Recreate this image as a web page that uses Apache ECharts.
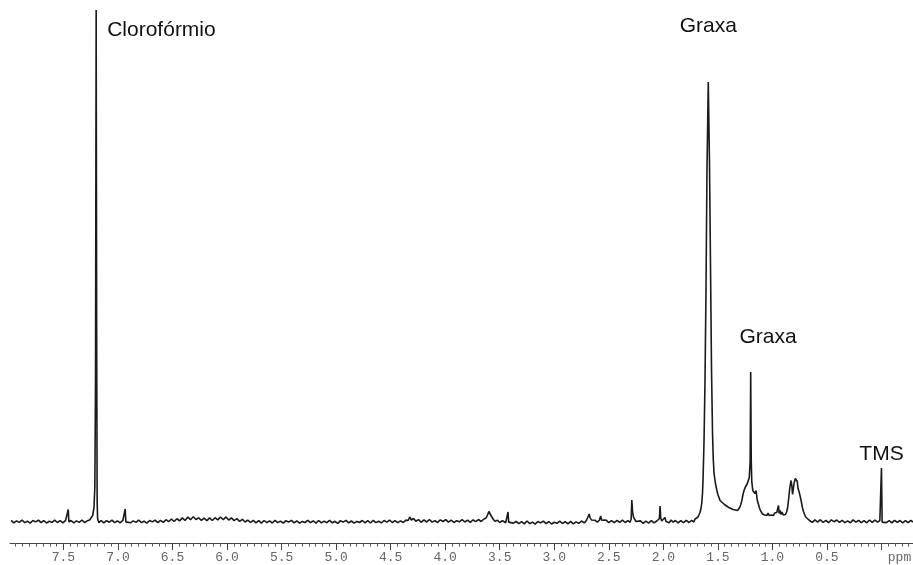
<!DOCTYPE html>
<html>
<head>
<meta charset="utf-8">
<script src="https://cdn.jsdelivr.net/npm/echarts@6/dist/echarts.min.js"></script>
<style>html,body{margin:0;padding:0;background:#fff;}#c{width:913px;height:565px;}</style>
</head>
<body>
<div id="c"></div>
<script>
// Chemical shift (ppm) vs. intensity (arbitrary units)
var regionAromatic = [[7.98,1.2],[7.955,-1.3],[7.93,0.6],[7.905,-0.9],[7.88,1.5],[7.855,-1.1],[7.83,0.3],[7.805,-1.6],[7.78,1.0],[7.755,-0.4],[7.73,1.4],[7.705,-1.2],[7.68,0.8],[7.655,-1.5],[7.63,0.2],[7.605,-0.8],[7.58,1.3],[7.555,-1.0],[7.53,0.9],[7.505,-1.4],[7.48,1.2],[7.462,-0.6],[7.456,12],[7.45,-0.5],[7.43,1.0],[7.405,-1.3],[7.38,0.6],[7.355,-0.9],[7.33,1.5],[7.305,-1.1],[7.28,0.8],[7.26,1.5],[7.245,3],[7.232,6],[7.22,14],[7.212,35],[7.206,140],[7.2,511.5],[7.195,170],[7.191,20],[7.187,3],[7.175,-1.2],[7.155,1.0],[7.13,-1.4],[7.105,0.9],[7.08,-0.7],[7.055,1.3],[7.03,-1.2],[7.005,0.6],[6.98,-1.3],[6.955,1.1],[6.94,-0.6],[6.934,12.5],[6.928,-0.4],[6.91,1.2],[6.885,-1.3],[6.86,0.6],[6.835,-0.9],[6.81,1.5],[6.785,-1.1],[6.76,0.3],[6.735,-1.6],[6.71,1.0],[6.685,-0.4],[6.66,1.4],[6.635,-1.2]];
var regionHump = [[6.61,1.1],[6.585,-0.9],[6.56,1.8],[6.535,-0.2],[6.51,2.5],[6.485,0.0],[6.46,2.8],[6.435,0.6],[6.41,3.6],[6.385,1.0],[6.36,4.4],[6.335,1.8],[6.31,4.8],[6.285,2.0],[6.26,3.6],[6.235,1.2],[6.21,3.4],[6.185,0.8],[6.16,3.6],[6.135,1.0],[6.11,3.8],[6.085,1.6],[6.06,4.5],[6.035,1.8],[6.01,4.6],[5.985,1.4],[5.96,3.6],[5.935,0.9],[5.91,2.8],[5.885,0.2],[5.86,2.2],[5.835,-0.5],[5.81,1.4],[5.785,-1.0],[5.76,1.2],[5.735,-1.3]];
var regionMiddle = [[5.71,0.9],[5.685,-1.6],[5.66,1.0],[5.635,-1.2],[5.61,0.6],[5.585,-1.5],[5.56,1.2],[5.535,-1.1],[5.51,0.4],[5.485,-1.7],[5.46,0.9],[5.435,-0.6],[5.41,1.2],[5.385,-1.4],[5.36,0.6],[5.335,-1.7],[5.31,0.1],[5.285,-1.0],[5.26,1.1],[5.235,-1.2],[5.21,0.7],[5.185,-1.6],[5.16,1.0],[5.135,-1.4],[5.11,0.4],[5.085,-1.2],[5.06,1.2],[5.035,-1.3],[5.01,0.2],[4.985,-1.8],[4.96,0.8],[4.935,-0.6],[4.91,1.1],[4.885,-1.4],[4.86,0.5],[4.835,-1.6],[4.81,0.1],[4.785,-1.0],[4.76,1.0],[4.735,-1.3],[4.71,0.8],[4.685,-1.5],[4.66,1.2],[4.635,-1.1],[4.61,0.3],[4.585,-1.4],[4.56,1.0],[4.535,-0.6],[4.51,1.4],[4.485,-1.0],[4.46,0.9],[4.435,-1.2],[4.41,0.6],[4.385,-1.0],[4.36,1.4],[4.34,1.0],[4.325,4.5],[4.31,1.5],[4.29,3.0],[4.27,0.2],[4.245,1.9],[4.22,-0.8],[4.195,1.6],[4.17,-0.5],[4.145,2.0],[4.12,-0.6],[4.095,0.9],[4.07,-1.0],[4.045,1.6],[4.02,0.0],[3.995,1.9],[3.97,-0.7],[3.945,1.3],[3.92,-1.0],[3.895,0.8],[3.87,-0.3],[3.845,1.8],[3.82,-0.5],[3.795,1.4],[3.77,-0.9],[3.745,1.6],[3.72,-0.2],[3.695,2.0],[3.67,0.0],[3.645,2.5],[3.625,3.5],[3.61,7],[3.6,10],[3.59,8],[3.575,5],[3.56,2.5],[3.545,0.3],[3.52,1.2],[3.5,-1.0],[3.475,0.8],[3.445,-1.2],[3.43,0.5],[3.424,9.5],[3.418,-0.6],[3.4,0.9],[3.375,-1.6]];
var regionAliphatic = [[3.35,0.0],[3.325,-2.1],[3.3,-0.2],[3.275,-2.4],[3.25,0.5],[3.225,-2.1],[3.2,-0.7],[3.175,-2.6],[3.15,0.0],[3.125,-1.4],[3.1,0.4],[3.075,-2.2],[3.05,-0.2],[3.025,-2.5],[3.0,-0.8],[2.975,-1.8],[2.95,0.3],[2.925,-2.0],[2.9,-0.1],[2.875,-2.4],[2.85,0.2],[2.825,-2.3],[2.8,-0.4],[2.775,-1.9],[2.75,0.5],[2.725,-1.4],[2.705,1.0],[2.69,2.0],[2.68,7.5],[2.672,4],[2.66,1.5],[2.645,-0.5],[2.625,1.2],[2.605,-0.6],[2.585,1.5],[2.575,5.5],[2.565,1.2],[2.55,-0.4],[2.525,1.4],[2.5,-1.1],[2.475,0.8],[2.45,-1.2],[2.425,1.1],[2.4,-0.9],[2.375,1.3],[2.35,-1.0],[2.325,0.9],[2.305,-0.8],[2.295,2.5],[2.289,21.5],[2.282,10],[2.275,5],[2.265,2.5],[2.25,0.0],[2.235,-1.5],[2.21,0.6],[2.185,-1.8],[2.16,0.3],[2.135,-1.6],[2.11,0.8],[2.085,-1.4],[2.06,0.5],[2.045,-0.5],[2.036,3],[2.03,15.5],[2.024,3.5],[2.015,0.5],[2.0,2.2],[1.985,4],[1.975,0.0],[1.96,1.0],[1.945,-1.2],[1.93,1.5],[1.92,3.2],[1.91,-0.6],[1.89,1.0],[1.865,-1.4],[1.84,0.8],[1.815,-1.2],[1.79,1.1],[1.765,-1.0],[1.74,1.2],[1.72,-0.5]];
var regionGrease = [[1.709,2.5],[1.695,2.8],[1.682,4.5],[1.672,6],[1.664,9],[1.655,13],[1.648,18],[1.641,28],[1.636,42],[1.627,80],[1.618,140],[1.609,230],[1.6,350],[1.588,439.5],[1.577,360],[1.567,250],[1.558,150],[1.549,88],[1.542,62],[1.535,48],[1.522,38],[1.511,32],[1.5,27],[1.49,25],[1.48,21],[1.47,22.5],[1.46,19],[1.45,20],[1.44,17],[1.43,18.5],[1.42,15.5],[1.41,17],[1.4,14],[1.39,15.5],[1.38,13],[1.37,14.5],[1.36,12],[1.35,13.5],[1.34,11.5],[1.33,13],[1.32,11],[1.31,13],[1.3,14],[1.29,17],[1.28,21],[1.27,27],[1.26,31],[1.25,34],[1.24,36],[1.23,38],[1.22,40],[1.212,44],[1.204,60],[1.199,149.5],[1.194,60],[1.189,40],[1.18,31],[1.17,29],[1.16,28],[1.15,31],[1.145,27],[1.14,22],[1.13,18],[1.12,14],[1.11,11],[1.1,9],[1.09,7.5],[1.08,8.5],[1.07,6.5],[1.06,8],[1.05,6],[1.04,8.5],[1.03,6],[1.02,8],[1.01,6.5],[1.0,8],[0.99,6],[0.98,8.5],[0.97,6.5],[0.96,9],[0.95,7],[0.944,16],[0.938,8],[0.93,11],[0.92,7],[0.912,9.5],[0.9,6.5],[0.89,8.5],[0.88,7],[0.87,9.5],[0.86,14],[0.85,24],[0.84,34],[0.83,41],[0.822,36],[0.815,27],[0.808,33],[0.8,39],[0.79,43],[0.78,44.5],[0.772,40],[0.765,33],[0.756,30],[0.745,25],[0.735,20],[0.725,14],[0.715,10],[0.705,7],[0.695,4.5],[0.68,3.5],[0.665,1.5],[0.65,2.5]];
var regionTMS = [[0.635,-0.8],[0.61,1.6],[0.585,-0.6],[0.56,1.8],[0.535,-1.0],[0.51,1.2],[0.485,-1.2],[0.46,1.7],[0.435,-0.2],[0.41,1.5],[0.385,-0.9],[0.36,1.1],[0.335,-1.2],[0.31,0.6],[0.285,-1.3],[0.26,1.6],[0.235,-0.7],[0.21,1.2],[0.185,-1.1],[0.16,0.9],[0.135,-1.3],[0.11,1.5],[0.085,-0.8],[0.06,1.4],[0.035,-0.6],[0.015,1.0],[0.006,-0.5],[0.0,53.5],[-0.006,-0.6],[-0.02,1.2],[-0.045,-1.1],[-0.07,0.8],[-0.095,-1.4],[-0.12,1.2],[-0.145,-0.9],[-0.17,1.0],[-0.195,-1.3],[-0.22,0.8],[-0.245,-1.2],[-0.27,1.1],[-0.289,-0.5]];

var majorTicks = [0, 0.5, 1.0, 1.5, 2.0, 2.5, 3.0, 3.5, 4.0, 4.5, 5.0, 5.5, 6.0, 6.5, 7.0, 7.5];
var annotationTexts = ['Clorofórmio', 'Graxa', 'Graxa', 'TMS'];
var annotationPpm = [7.099, 1.588, 1.040, 0.0];
var annotationVal = [491.5, 495.5, 184.5, 67.5];
var annotationAlign = ['left', 'center', 'center', 'center'];

var spectrum = [].concat(regionAromatic, regionHump, regionMiddle, regionAliphatic, regionGrease, regionTMS);

var minorTicks = [];
for (var t = -0.25; t <= 7.99; t += 0.0625) {
  var r = Math.round(t * 10000) / 10000;
  if (Math.abs(r * 2 - Math.round(r * 2)) > 1e-6) minorTicks.push(r);
}

var annData = annotationTexts.map(function (txt, i) {
  return {
    value: [annotationPpm[i], annotationVal[i]],
    label: { formatter: txt, align: annotationAlign[i] }
  };
});

var chart = echarts.init(document.getElementById('c'), null, { renderer: 'canvas' });
chart.setOption({
  animation: false,
  backgroundColor: '#fff',
  grid: { left: 10, right: 0, top: 0, bottom: 22, containLabel: false, outerBoundsMode: 'none' },
  xAxis: [{
    type: 'value', min: -0.289, max: 7.99, inverse: true, offset: 0,
    splitLine: { show: false },
    axisLine: { show: true, onZero: false, lineStyle: { color: '#444', width: 1 } },
    axisTick: { show: true, customValues: majorTicks, length: 7, lineStyle: { color: '#444' } },
    axisLabel: {
      show: true, customValues: majorTicks, margin: 8, hideOverlap: false,
      fontFamily: 'Liberation Mono', fontSize: 13, color: '#666',
      formatter: function (v) { return Math.abs(v) < 1e-9 ? '{p|ppm}' : v.toFixed(1); },
      rich: { p: { fontFamily: 'Liberation Mono', fontSize: 13, color: '#666', padding: [0, 0, 0, 36] } }
    }
  }, {
    type: 'value', min: -0.289, max: 7.99, inverse: true, position: 'bottom', offset: 0,
    splitLine: { show: false },
    axisLine: { show: false, onZero: false },
    axisTick: { show: true, customValues: minorTicks, length: 3.5, lineStyle: { color: '#555' } },
    axisLabel: { show: false }
  }],
  yAxis: { type: 'value', min: -21.5, max: 521.5, show: false, splitLine: { show: false } },
  series: [{
    type: 'line', xAxisIndex: 0, data: spectrum, showSymbol: false, symbol: 'none',
    lineStyle: { color: '#1a1a1a', width: 1.6 }, z: 2
  }, {
    type: 'scatter', xAxisIndex: 0, data: annData, symbolSize: 0, silent: true,
    itemStyle: { opacity: 1 },
    label: {
      show: true, position: 'inside', verticalAlign: 'middle',
      fontFamily: 'Liberation Sans', fontSize: 21, color: '#111'
    }, z: 3
  }]
});
</script>
</body>
</html>
